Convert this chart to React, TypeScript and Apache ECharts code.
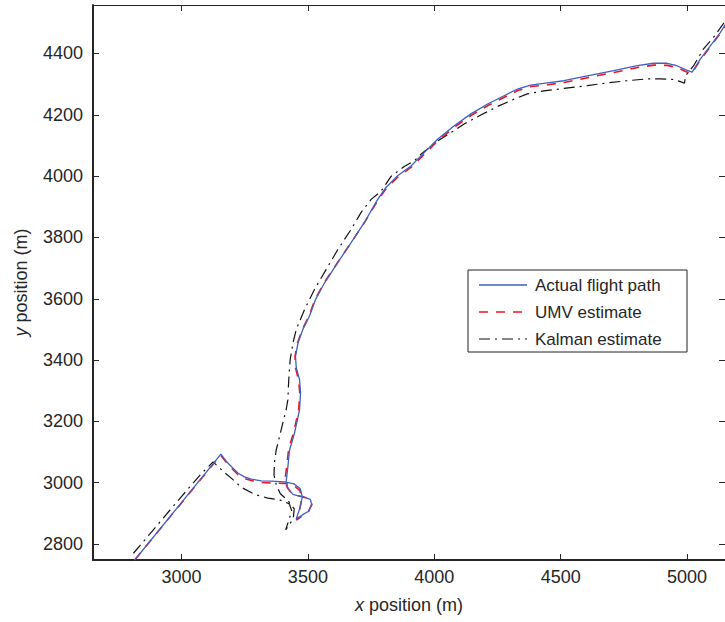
import React, { useEffect, useRef } from 'react';
import * as echarts from 'echarts';

const xTicks = [3000, 3500, 4000, 4500, 5000];
const yTicks = [2800, 3000, 3200, 3400, 3600, 3800, 4000, 4200, 4400];
const xRange = [2650, 5150];
const yRange = [2748, 4558];
const seriesNames = ['Actual flight path', 'UMV estimate', 'Kalman estimate'];

const actualPath = [
  [2815, 2748], [3156, 3093], [3178, 3069], [3197, 3053], [3224, 3031], [3249, 3019],
  [3276, 3012], [3316, 3006], [3355, 3005], [3407, 3003], [3446, 2996], [3470, 2980],
  [3478, 2954], [3470, 2921], [3454, 2882], [3478, 2895], [3501, 2906], [3516, 2928],
  [3509, 2946], [3489, 2952], [3462, 2957], [3441, 2962], [3422, 2980], [3414, 3003],
  [3421, 3053], [3427, 3105], [3447, 3162], [3467, 3238], [3471, 3293], [3467, 3336],
  [3454, 3375], [3451, 3412], [3461, 3456], [3480, 3500], [3506, 3543], [3530, 3597],
  [3566, 3652], [3618, 3718], [3671, 3783], [3723, 3848], [3776, 3924], [3809, 3963],
  [3855, 4001], [3908, 4033], [3947, 4066], [4013, 4120], [4079, 4164], [4145, 4203],
  [4211, 4235], [4276, 4262], [4329, 4284], [4381, 4297], [4447, 4304], [4513, 4311],
  [4605, 4327], [4710, 4344], [4803, 4360], [4868, 4368], [4921, 4368], [4960, 4360],
  [4993, 4347], [5020, 4339], [5053, 4382], [5092, 4425], [5132, 4469], [5160, 4505],
];

const umvPath = [
  [2815, 2748], [3155, 3090], [3178, 3066], [3197, 3048], [3224, 3026], [3249, 3014],
  [3276, 3007], [3316, 3001], [3355, 2999], [3407, 2998], [3446, 2990], [3468, 2975],
  [3476, 2950], [3468, 2915], [3455, 2878], [3480, 2893], [3503, 2906], [3515, 2930],
  [3505, 2947], [3485, 2953], [3458, 2958], [3436, 2965], [3418, 2985], [3410, 3010],
  [3417, 3060], [3424, 3110], [3444, 3165], [3464, 3240], [3468, 3293], [3463, 3336],
  [3451, 3375], [3449, 3412], [3459, 3456], [3478, 3500], [3504, 3543], [3528, 3597],
  [3564, 3652], [3616, 3716], [3669, 3781], [3722, 3846], [3776, 3920], [3810, 3960],
  [3856, 3997], [3909, 4029], [3948, 4061], [4014, 4115], [4080, 4160], [4146, 4198],
  [4212, 4230], [4277, 4257], [4330, 4279], [4382, 4292], [4448, 4298], [4514, 4305],
  [4606, 4321], [4711, 4338], [4804, 4354], [4869, 4362], [4922, 4361], [4961, 4354],
  [4994, 4341], [5018, 4334], [5050, 4376], [5090, 4420], [5130, 4464], [5160, 4503],
];

const kalmanPath = [
  [2810, 2770], [2882, 2840], [3000, 2955], [3079, 3030], [3125, 3068], [3165, 3037],
  [3197, 3015], [3237, 2985], [3289, 2962], [3342, 2950], [3388, 2944], [3408, 2938],
  [3427, 2931], [3436, 2908], [3424, 2876], [3412, 2846], [3442, 2882], [3446, 2915],
  [3422, 2941], [3391, 2964], [3375, 2993], [3366, 3026], [3368, 3068], [3375, 3108],
  [3388, 3151], [3401, 3195], [3414, 3238], [3421, 3271], [3423, 3314], [3426, 3359],
  [3430, 3401], [3441, 3456], [3454, 3500], [3487, 3565], [3526, 3630], [3572, 3695],
  [3618, 3760], [3671, 3826], [3710, 3881], [3750, 3924], [3789, 3950], [3829, 3999],
  [3881, 4031], [3921, 4050], [3947, 4071], [4013, 4115], [4066, 4142], [4118, 4170],
  [4184, 4199], [4250, 4227], [4316, 4251], [4368, 4268], [4434, 4278], [4513, 4286],
  [4605, 4295], [4684, 4304], [4763, 4311], [4842, 4317], [4895, 4317], [4947, 4315],
  [4974, 4308], [4990, 4303], [4993, 4326], [5026, 4360], [5065, 4415], [5105, 4453],
  [5155, 4510],
];

const FONT = '"Liberation Sans", Arial, Helvetica, sans-serif';
const TEXT = '#262626';
const AXIS = '#262626';
const BLUE = '#3f5fc4';
const RED = '#f0141e';
const BLACK = '#111111';
const RED_DASH = [9, 8];
const KAL_DASH = [11, 5, 2, 5];

export default function App() {
  const ref = useRef<HTMLDivElement>(null);
  useEffect(() => {
    const chart = echarts.init(ref.current!, null, { renderer: 'svg' });
    const tickCommon = { show: true, inside: true, length: 6, lineStyle: { color: AXIS, width: 1 } };
    const plain = (v: number) => String(v);
    const legendRows = [
      { y: 285, color: BLUE, dash: null as number[] | null, width: 1.3 },
      { y: 312, color: RED, dash: RED_DASH, width: 1.5 },
      { y: 339, color: BLACK, dash: KAL_DASH, width: 1.2 },
    ];
    const legendChildren: any[] = [
      { type: 'rect', shape: { x: 468, y: 270, width: 219, height: 82 }, style: { fill: '#fff', stroke: '#222', lineWidth: 1 } },
    ];
    legendRows.forEach((r, i) => {
      legendChildren.push({
        type: 'line',
        shape: { x1: 479, y1: r.y, x2: 527, y2: r.y },
        style: { stroke: r.color, lineWidth: r.width, lineDash: r.dash || undefined },
      });
      legendChildren.push({
        type: 'text',
        x: 535,
        y: r.y,
        style: { text: seriesNames[i], fill: TEXT, font: `17px ${FONT}`, verticalAlign: 'middle', align: 'left' },
      });
    });

    chart.setOption({
      animation: false,
      backgroundColor: '#fff',
      grid: { left: 93, right: 0, top: 5, bottom: 62, containLabel: false },
      xAxis: [
        {
          type: 'value', position: 'bottom', min: xRange[0], max: xRange[1],
          name: '{i|x} position (m)', nameLocation: 'middle', nameGap: 36,
          nameTextStyle: { color: TEXT, fontSize: 18, fontFamily: FONT, rich: { i: { fontStyle: 'italic', fontSize: 18, fontFamily: FONT, color: TEXT } } },
          axisLine: { show: true, onZero: false, lineStyle: { color: AXIS, width: 2 } },
          axisTick: { ...tickCommon, customValues: xTicks },
          axisLabel: { show: true, customValues: xTicks, formatter: plain, color: TEXT, fontSize: 18, fontFamily: FONT, margin: 8 },
          splitLine: { show: false },
        },
        {
          type: 'value', position: 'top', min: xRange[0], max: xRange[1],
          axisLine: { show: true, onZero: false, lineStyle: { color: AXIS, width: 1 } },
          axisTick: { ...tickCommon, customValues: xTicks },
          axisLabel: { show: false },
          splitLine: { show: false },
        },
      ],
      yAxis: [
        {
          type: 'value', position: 'left', min: yRange[0], max: yRange[1],
          name: '{i|y} position (m)', nameLocation: 'middle', nameGap: 63,
          nameTextStyle: { color: TEXT, fontSize: 18, fontFamily: FONT, rich: { i: { fontStyle: 'italic', fontSize: 18, fontFamily: FONT, color: TEXT } } },
          axisLine: { show: true, onZero: false, lineStyle: { color: AXIS, width: 2 } },
          axisTick: { ...tickCommon, customValues: yTicks },
          axisLabel: { show: true, customValues: yTicks, formatter: plain, color: TEXT, fontSize: 18, fontFamily: FONT, margin: 10 },
          splitLine: { show: false },
        },
        {
          type: 'value', position: 'right', min: yRange[0], max: yRange[1],
          axisLine: { show: true, onZero: false, lineStyle: { color: AXIS, width: 1 } },
          axisTick: { ...tickCommon, customValues: yTicks },
          axisLabel: { show: false },
          splitLine: { show: false },
        },
      ],
      series: [
        {
          name: seriesNames[2], type: 'line', data: kalmanPath, showSymbol: false, symbol: 'none',
          lineStyle: { color: BLACK, width: 1.2, type: KAL_DASH }, clip: true, z: 2,
        },
        {
          name: seriesNames[1], type: 'line', data: umvPath, showSymbol: false, symbol: 'none',
          lineStyle: { color: RED, width: 1.6, type: RED_DASH }, clip: true, z: 3,
        },
        {
          name: seriesNames[0], type: 'line', data: actualPath, showSymbol: false, symbol: 'none',
          lineStyle: { color: BLUE, width: 1.3, type: 'solid' }, clip: true, z: 4,
        },
      ],
      graphic: [{ type: 'group', z: 100, children: legendChildren }],
    });
    return () => chart.dispose();
  }, []);
  return <div ref={ref} style={{ position: 'fixed', left: 0, top: 0, width: 725, height: 622, background: '#fff' }} />;
}
